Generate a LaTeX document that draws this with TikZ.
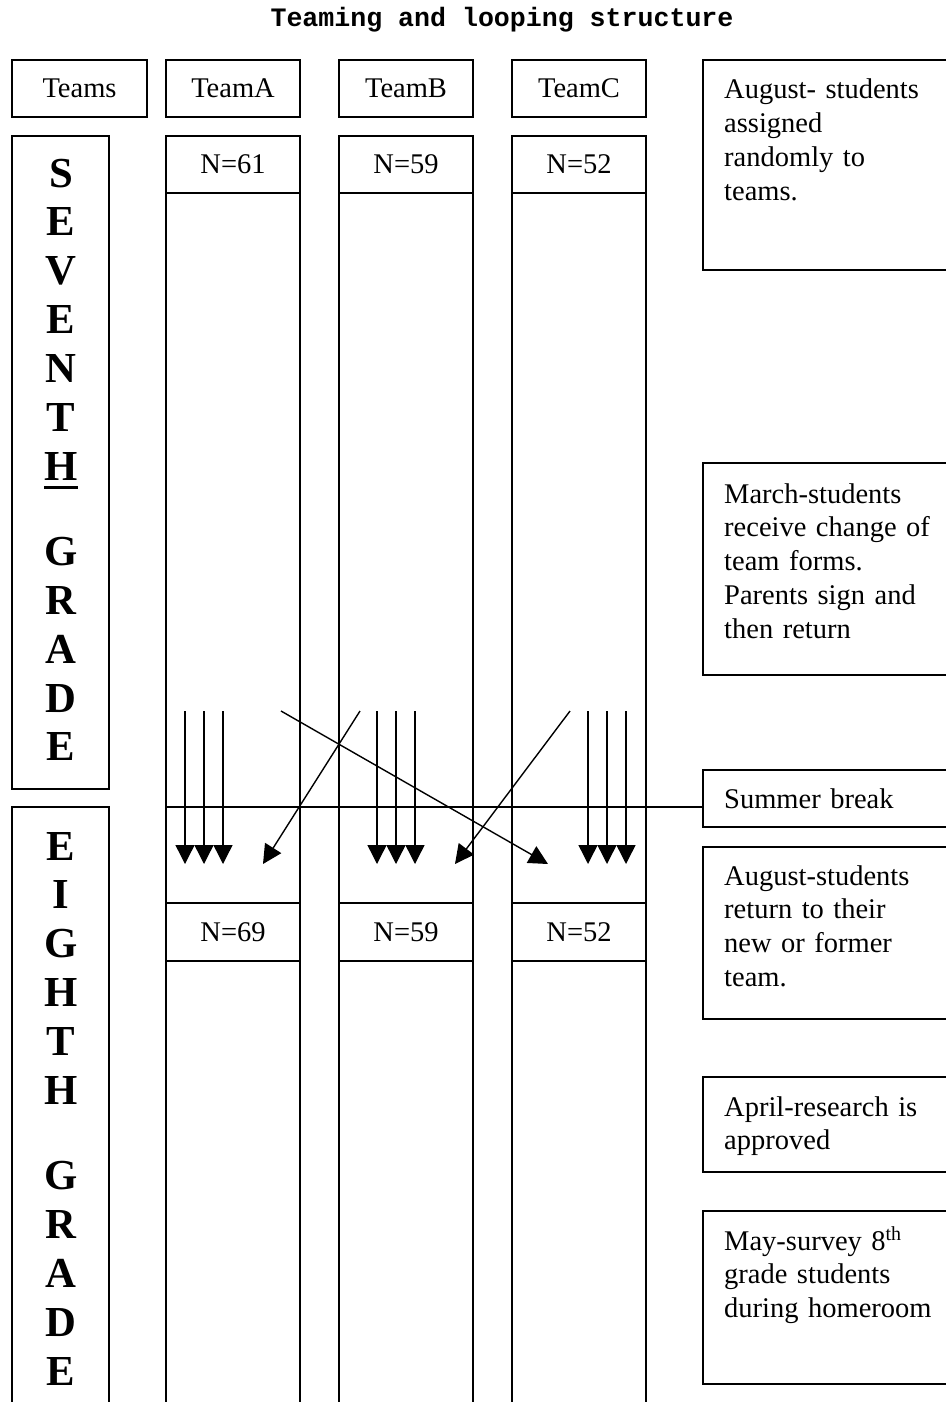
\documentclass[tikz,border=0pt]{standalone}
\usepackage{fontspec}
\setmainfont{Liberation Serif}
\newfontfamily\titlefont{Liberation Mono}
\usetikzlibrary{arrows.meta}
% heavy underline for the grade label
\newcommand\heavyul[1]{\leavevmode\vtop{\hbox{#1}\kern 6pt\hrule height 3pt}}
\begin{document}
\begin{tikzpicture}[x=1pt,y=-1pt,
  frame/.style={draw, line width=1.5pt, inner sep=0pt, outer sep=0pt, anchor=north west},
  lbl/.style={font=\fontsize{28.5}{33.8}\selectfont},
  note/.style={lbl, inner sep=0pt, anchor=base west, text width=225pt, align=left},
  grade/.style={font=\fontsize{42.75}{48.9}\selectfont\bfseries, inner sep=0pt,
                text width=60pt, align=center, anchor=base},
  move/.style={line width=1.4pt, -{Triangle[length=19pt,width=19pt]}},
]
\path[use as bounding box, fill=white] (0,0) rectangle (945,1402);

% title
\node[font={\titlefont\fontsize{26.6}{30}\selectfont\bfseries}, inner sep=0pt, anchor=base]
  (title) at (502,27) {Teaming and looping structure};

% header row
\node[frame, lbl, minimum width=135pt, minimum height=57pt] (teams) at (12,60) {Teams};
\node[frame, lbl, minimum width=134pt, minimum height=57pt] (hA) at (166,60) {TeamA};
\node[frame, lbl, minimum width=134pt, minimum height=57pt] (hB) at (339,60) {TeamB};
\node[frame, lbl, minimum width=134pt, minimum height=57pt] (hC) at (512,60) {TeamC};

% grade labels
\node[frame, minimum width=97pt, minimum height=653pt] (g7) at (12,136) {};
\node[grade] (g7txt) at (61,187)
  {S\\E\\V\\E\\N\\T\\\heavyul{H}\\[36pt]G\\R\\A\\D\\E};
\node[frame, minimum width=97pt, minimum height=640pt] (g8) at (12,807) {};
\node[grade] (g8txt) at (61,860)
  {E\\I\\G\\H\\T\\H\\[36pt]G\\R\\A\\D\\E};

% team columns
\foreach \c/\x/\na/\nb in {A/166/61/69, B/339/59/59, C/512/52/52}{
  \node[frame, lbl, minimum width=134pt, minimum height=57pt] (n7\c) at (\x,136) {N=\na};
  \node[frame, minimum width=134pt, minimum height=710pt] (col7\c) at (\x,193) {};
  \node[frame, lbl, minimum width=134pt, minimum height=58pt] (n8\c) at (\x,903) {N=\nb};
  \node[frame, minimum width=134pt, minimum height=500pt] (col8\c) at (\x,961) {};
}

% timeline notes
\node[frame, minimum width=257pt, minimum height=210pt] (aug7) at (703,60) {};
\node[note] (aug7txt) at ([xshift=21pt,yshift=-39pt]aug7.north west)
  {August- students\\assigned\\randomly to\\teams.};
\node[frame, minimum width=257pt, minimum height=212pt] (mar) at (703,463) {};
\node[note] (martxt) at ([xshift=21pt,yshift=-40pt]mar.north west)
  {March-students\\receive change of\\team forms.\\Parents sign and\\then return};
\node[frame, minimum width=257pt, minimum height=57pt] (summer) at (703,770) {};
\node[note] (sumtxt) at ([xshift=21pt,yshift=-38pt]summer.north west) {Summer break};
\node[frame, minimum width=257pt, minimum height=172pt] (aug8) at (703,847) {};
\node[note] (aug8txt) at ([xshift=21pt,yshift=-38pt]aug8.north west)
  {August-students\\return to their\\new or former\\team.};
\node[frame, minimum width=257pt, minimum height=95pt] (apr) at (703,1077) {};
\node[note] (aprtxt) at ([xshift=21pt,yshift=-39pt]apr.north west)
  {April-research is\\approved};
\node[frame, minimum width=257pt, minimum height=173pt] (may) at (703,1211) {};
\node[note] (maytxt) at ([xshift=21pt,yshift=-39pt]may.north west)
  {May-survey 8\textsuperscript{th}\\grade students\\during homeroom};

% summer break divider
\coordinate (sumL) at (166,807);
\draw[line width=1.5pt] (sumL) -- (sumL -| summer.west);

% students staying on their team
\foreach \x in {185,204,223,377,396,415,588,607,626}{
  \coordinate (s\x) at (\x,711);
  \coordinate (e\x) at (\x,864);
  \draw[move] (s\x) -- (e\x);
}

% students changing team
\coordinate (dA0) at (281,711); \coordinate (dA1) at (548,864);
\coordinate (dB0) at (360,711); \coordinate (dB1) at (263,864);
\coordinate (dC0) at (570,711); \coordinate (dC1) at (455,864);
\draw[move] (dA0) -- (dA1);
\draw[move] (dB0) -- (dB1);
\draw[move] (dC0) -- (dC1);
\end{tikzpicture}
\end{document}
